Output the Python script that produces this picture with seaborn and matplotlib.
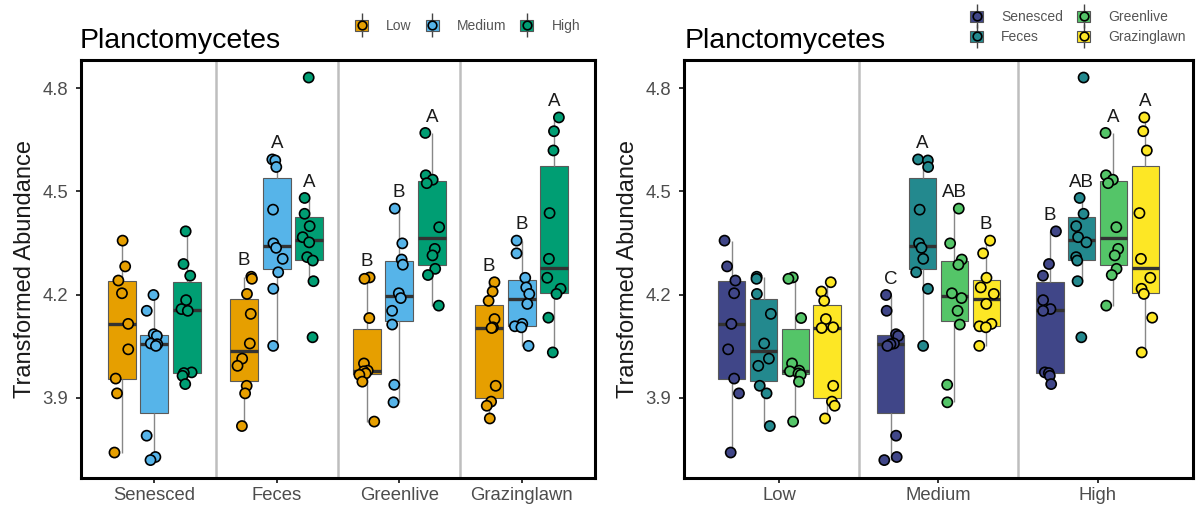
import numpy as np
import pandas as pd
import matplotlib
matplotlib.use("Agg")
import matplotlib.pyplot as plt
from matplotlib.patches import Patch
from matplotlib.lines import Line2D
import seaborn as sns

# ---------------- data ----------------
types = ["Senesced", "Feces", "Greenlive", "Grazinglawn"]
levels = ["Low", "Medium", "High"]

senesced_low = [4.357, 4.282, 4.241, 4.204, 4.115, 4.041, 3.956, 3.913, 3.741]
senesced_medium = [4.199, 4.153, 4.085, 4.080, 4.058, 4.056, 4.051, 3.790, 3.728, 3.719]
senesced_high = [4.384, 4.289, 4.255, 4.184, 4.158, 4.153, 3.974, 3.972, 3.964, 3.940]
feces_low = [4.252, 4.246, 4.202, 4.144, 4.058, 4.014, 3.993, 3.935, 3.913, 3.818]
feces_medium = [4.593, 4.590, 4.571, 4.447, 4.349, 4.336, 4.304, 4.265, 4.217, 4.051]
feces_high = [4.831, 4.481, 4.435, 4.399, 4.367, 4.352, 4.309, 4.299, 4.239, 4.076]
greenlive_low = [4.250, 4.246, 4.132, 4.000, 3.979, 3.977, 3.971, 3.967, 3.947, 3.831]
greenlive_medium = [4.450, 4.349, 4.302, 4.287, 4.204, 4.190, 4.153, 4.113, 3.938, 3.887]
greenlive_high = [4.670, 4.547, 4.534, 4.524, 4.396, 4.333, 4.314, 4.275, 4.257, 4.168]
grazinglawn_low = [4.236, 4.209, 4.182, 4.129, 4.105, 4.103, 3.935, 3.889, 3.877, 3.840]
grazinglawn_medium = [4.357, 4.320, 4.249, 4.221, 4.202, 4.173, 4.115, 4.108, 4.105, 4.051]
grazinglawn_high = [4.715, 4.675, 4.619, 4.437, 4.304, 4.249, 4.217, 4.202, 4.133, 4.032]

# significance letters: left panel (within type), right panel (within level)
letters_by_type = {
    ("Feces", "Low"): "B", ("Feces", "Medium"): "A", ("Feces", "High"): "A",
    ("Greenlive", "Low"): "B", ("Greenlive", "Medium"): "B", ("Greenlive", "High"): "A",
    ("Grazinglawn", "Low"): "B", ("Grazinglawn", "Medium"): "B", ("Grazinglawn", "High"): "A",
}
letters_by_level = {
    ("Senesced", "Medium"): "C", ("Feces", "Medium"): "A",
    ("Greenlive", "Medium"): "AB", ("Grazinglawn", "Medium"): "B",
    ("Senesced", "High"): "B", ("Feces", "High"): "AB",
    ("Greenlive", "High"): "A", ("Grazinglawn", "High"): "A",
}

yticks = [3.9, 4.2, 4.5, 4.8]
ytick_labels = ["3.9", "4.2", "4.5", "4.8"]

level_colors = ["#E69F00", "#56B4E9", "#009E73"]
type_colors = ["#404688", "#23898E", "#54C568", "#FDE725"]

groups = {
    ("Senesced", "Low"): senesced_low, ("Senesced", "Medium"): senesced_medium,
    ("Senesced", "High"): senesced_high,
    ("Feces", "Low"): feces_low, ("Feces", "Medium"): feces_medium, ("Feces", "High"): feces_high,
    ("Greenlive", "Low"): greenlive_low, ("Greenlive", "Medium"): greenlive_medium,
    ("Greenlive", "High"): greenlive_high,
    ("Grazinglawn", "Low"): grazinglawn_low, ("Grazinglawn", "Medium"): grazinglawn_medium,
    ("Grazinglawn", "High"): grazinglawn_high,
}
rows = []
for (t, l), vals in groups.items():
    for v in vals:
        rows.append({"Type": t, "Level": l, "value": v})
df = pd.DataFrame(rows)

# ---------------- style ----------------
sns.set_style("white")
plt.rcParams["font.family"] = ["Liberation Sans", "DejaVu Sans"]

W, H = 1196, 508
fig = plt.figure(figsize=(W / 100, H / 100), dpi=100)

def fx(px):
    return px / W

def fy(py):
    return 1 - py / H

ax_top, ax_bot = 60, 478
axL = fig.add_axes([fx(81), fy(ax_bot), fx(595 - 81), (ax_bot - ax_top) / H])
axR = fig.add_axes([fx(684), fy(ax_bot), fx(1193 - 684), (ax_bot - ax_top) / H])

np.random.seed(3)

def upper_whisker(vals):
    v = np.asarray(vals)
    q1, q3 = np.percentile(v, [25, 75])
    lim = q3 + 1.5 * (q3 - q1)
    return v[v <= lim].max()

def draw_panel(ax, xvar, order, hvar, hue_order, palette, letters):
    for i in range(len(order) - 1):
        ax.axvline(i + 0.5, color="#BEBEBE", lw=1.8, zorder=0)
    sns.boxplot(data=df, x=xvar, y="value", hue=hvar, order=order, hue_order=hue_order,
                palette=palette, saturation=1, width=0.8, gap=0.14, showfliers=False,
                showcaps=False, linecolor="#5a5a5a", linewidth=0.8,
                medianprops=dict(color="#333333", linewidth=2.4),
                whiskerprops=dict(color="#888888", linewidth=1.0),
                legend=False, ax=ax)
    sns.stripplot(data=df, x=xvar, y="value", hue=hvar, order=order, hue_order=hue_order,
                  palette=palette, dodge=True, jitter=0.2, size=7.3, edgecolor="black",
                  linewidth=1.2, legend=False, zorder=3, ax=ax)
    n = len(hue_order)
    slot = 0.8 / n
    for (a, b), lab in letters.items():
        key_x = a if xvar == "Type" else b
        key_h = b if xvar == "Type" else a
        xi = order.index(key_x)
        hj = hue_order.index(key_h)
        xpos = xi + (hj - (n - 1) / 2) * slot
        ytop = upper_whisker(groups[(a, b)])
        ax.text(xpos, ytop + 0.046, lab, ha="center", va="center", fontsize=13.5,
                color="#1a1a1a", zorder=5)
    ax.set_xlim(-0.6, len(order) - 0.4)
    ax.set_ylim(3.667, 4.882)
    ax.set_yticks(yticks)
    ax.set_yticklabels(ytick_labels)
    ax.set_xlabel("")
    ax.set_ylabel("Transformed Abundance", fontsize=17, color="#1a1a1a", labelpad=5)
    ax.tick_params(axis="both", which="both", length=3.6, width=1.4, color="#333333",
                   labelsize=13.3, labelcolor="#4D4D4D", direction="out",
                   bottom=True, left=True)
    ax.tick_params(axis="y", pad=5.5)
    ax.tick_params(axis="x", pad=3)
    for s in ax.spines.values():
        s.set_visible(True)
        s.set_color("black")
        s.set_linewidth(2.2)

draw_panel(axL, "Type", types, "Level", levels, level_colors, letters_by_type)
draw_panel(axR, "Level", levels, "Type", types, type_colors, letters_by_level)

# titles
fig.text(fx(80), fy(48), "Planctomycetes", fontsize=20.5, color="black", va="baseline", ha="left")
fig.text(fx(685), fy(48), "Planctomycetes", fontsize=20.5, color="black", va="baseline", ha="left")

def handles_for(colors):
    hs = []
    for c in colors:
        hs.append((Line2D([], [], marker="|", linestyle="none", markersize=17,
                          color="#444444", markeredgewidth=1.0),
                   Patch(facecolor=c, edgecolor="#555555", linewidth=0.8),
                   Line2D([], [], marker="o", linestyle="none", markersize=6.2,
                          markerfacecolor=c, markeredgecolor="black", markeredgewidth=1.2)))
    return hs

leg_kw = dict(frameon=False, fontsize=10, handlelength=0.95, handleheight=0.85,
              handletextpad=1.3, columnspacing=1.0, labelcolor="#555555", borderpad=0,
              borderaxespad=0)
legL = fig.legend(handles_for(level_colors), levels, ncol=3, loc="center left",
                  bbox_to_anchor=(fx(355), fy(26)), labelspacing=0.4, **leg_kw)
legR = fig.legend(handles_for(type_colors), types, ncol=2, loc="center left",
                  bbox_to_anchor=(fx(970), fy(27)), labelspacing=0.45, **leg_kw)

fig.savefig("out.png", dpi=100)
